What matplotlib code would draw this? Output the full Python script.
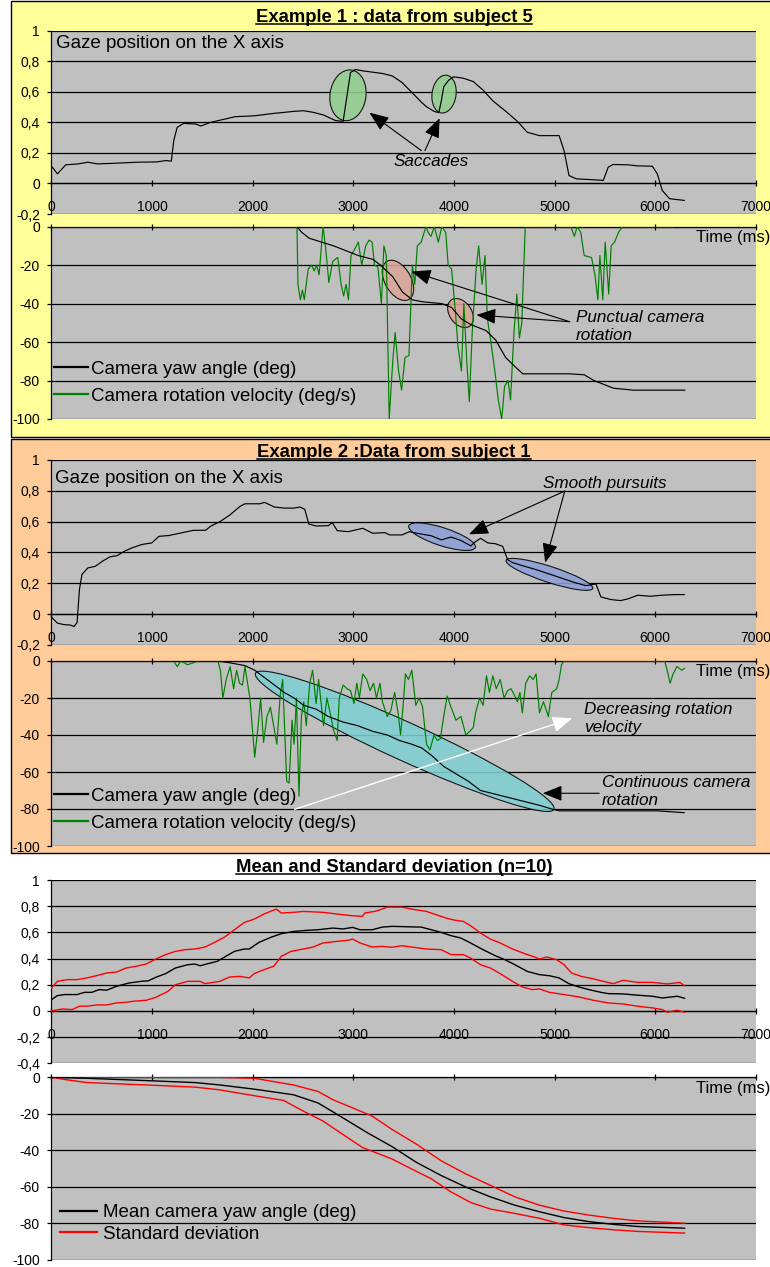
import numpy as np
import matplotlib
matplotlib.use('Agg')
import matplotlib.pyplot as plt
from matplotlib.patches import Ellipse, Rectangle
from matplotlib.lines import Line2D
from matplotlib.ticker import FuncFormatter
import matplotlib.transforms as mtrans

plt.rcParams['font.family'] = ['Liberation Sans', 'DejaVu Sans']
plt.rcParams['axes.unicode_minus'] = False

W, H, DPI = 770, 1267, 100

# ---------------- data ----------------
time_ticks = [0, 1000, 2000, 3000, 4000, 5000, 6000, 7000]
gaze_ticks = [-0.2, 0, 0.2, 0.4, 0.6, 0.8, 1]
gaze_ticks_mean = [-0.4, -0.2, 0, 0.2, 0.4, 0.6, 0.8, 1]
cam_ticks = [-100, -80, -60, -40, -20, 0]

titles = ["Example 1 : data from subject 5", "Example 2 :Data from subject 1",
          "Mean and Standard deviation (n=10)"]

# Example 1 (subject 5)
ex1_gaze_t = [0, 59, 142, 264, 361, 459, 654, 849, 1044, 1142, 1191, 1215, 1249, 1313, 1435, 1484,
              1581, 1728, 1825, 2020, 2216, 2411, 2508, 2606, 2704, 2826, 2899, 2972, 3021, 3094,
              3289, 3387, 3484, 3582, 3680, 3728, 3802, 3850, 3875, 3899, 3948, 3997, 4094, 4192,
              4290, 4387, 4509, 4631, 4729, 4851, 5046, 5095, 5144, 5217, 5339, 5485, 5534, 5583,
              5729, 5827, 5973, 6022, 6071, 6144, 6290]
ex1_gaze_x = [0.113, 0.063, 0.122, 0.128, 0.139, 0.128, 0.133, 0.139, 0.141, 0.150, 0.146, 0.28,
              0.367, 0.393, 0.389, 0.376, 0.40, 0.422, 0.437, 0.443, 0.459, 0.472, 0.476, 0.465,
              0.448, 0.411, 0.407, 0.726, 0.746, 0.737, 0.72, 0.704, 0.661, 0.596, 0.53, 0.502,
              0.472, 0.463, 0.541, 0.633, 0.676, 0.698, 0.689, 0.667, 0.611, 0.541, 0.476, 0.407,
              0.335, 0.313, 0.313, 0.215, 0.052, 0.030, 0.026, 0.020, 0.107, 0.124, 0.122, 0.115,
              0.113, 0.063, -0.046, -0.10, -0.111]

ex1_yaw_t = [0, 2440, 2489, 2562, 2684, 2806, 2952, 3050, 3196, 3270, 3392, 3489, 3587, 3684,
             3880, 3977, 4075, 4172, 4319, 4416, 4514, 4612, 4685, 5148, 5295, 5392, 5588, 5783, 6295]
ex1_yaw = [0, 0, -3, -6, -8, -10, -13, -15, -17, -20, -26, -34, -38, -39, -40, -42, -48, -51,
           -54, -59, -68, -73, -76.5, -76.5, -77, -80, -84, -85, -85]

ex1_vel_t = [0, 2440, 2450, 2474, 2494, 2513, 2552, 2586, 2611, 2635, 2660, 2699, 2723, 2757,
             2796, 2845, 2879, 2904, 2928, 2952, 2977, 3011, 3050, 3084, 3123, 3157, 3187, 3211,
             3245, 3279, 3304, 3328, 3357, 3392, 3416, 3450, 3480, 3514, 3553, 3587, 3611, 3636,
             3675, 3704, 3723, 3743, 3772, 3806, 3845, 3880, 3919, 3943, 3977, 4016, 4040, 4075,
             4099, 4128, 4153, 4182, 4221, 4246, 4280, 4309, 4333, 4368, 4407, 4441, 4475, 4504,
             4538, 4563, 4597, 4626, 4651, 4675, 4709, 5163, 5197, 5226, 5261, 5295, 5368, 5402,
             5431, 5451, 5480, 5504, 5539, 5563, 5597, 5636, 5675, 6173]
ex1_vel = [0, 0, -30, -38, -33, -38, -22, -20, -23, -20, -25, 0, -10, -29, -18, -16, -30, -36,
           -30, -38, -15, -12, -8, -20, -10, -7, -8, -20, -21, -40, -10, -15, -100, -70, -55, -75,
           -85, -68, -67, -20, -30, -10, -8, -3, 0, -3, -5, 0, -8, 0, -3, -20, -22, -45, -62, -75,
           -40, -70, -91, -55, -22, -10, -30, -15, -48, -60, -75, -90, -100, -83, -80, -90, -55,
           -35, -58, -50, 0, 0, -5, 0, -3, -15, -16, -25, -38, -15, -38, -8, -35, -10, -8, -3, 0, 0]

# Example 2 (subject 1)
ex2_gaze_t = [0, 59, 117, 190, 224, 254, 278, 303, 361, 434, 508, 581, 654, 727, 800, 898, 996,
              1069, 1166, 1288, 1410, 1532, 1581, 1679, 1776, 1874, 1923, 2069, 2118, 2216, 2313,
              2411, 2469, 2518, 2557, 2630, 2752, 2791, 2840, 2948, 3094, 3192, 3314, 3362, 3484,
              3558, 3631, 3777, 3875, 3972, 4070, 4168, 4216, 4265, 4338, 4412, 4485, 4534, 4582,
              4704, 4802, 4900, 4997, 5095, 5217, 5314, 5412, 5461, 5558, 5656, 5729, 5827, 5949,
              6071, 6193, 6290]
ex2_gaze_x = [-0.02, -0.058, -0.067, -0.071, -0.08, -0.054, 0.161, 0.258, 0.30, 0.31, 0.344,
              0.372, 0.38, 0.409, 0.43, 0.452, 0.462, 0.505, 0.51, 0.527, 0.544, 0.544, 0.57,
              0.602, 0.645, 0.699, 0.716, 0.716, 0.725, 0.695, 0.688, 0.688, 0.695, 0.68, 0.585,
              0.572, 0.574, 0.594, 0.542, 0.535, 0.557, 0.525, 0.529, 0.514, 0.514, 0.535, 0.525,
              0.508, 0.482, 0.50, 0.478, 0.443, 0.471, 0.492, 0.462, 0.457, 0.44, 0.353, 0.335,
              0.31, 0.292, 0.271, 0.25, 0.228, 0.202, 0.185, 0.196, 0.112, 0.095, 0.088, 0.099,
              0.123, 0.116, 0.123, 0.127, 0.127]

ex2_yaw_t = [0, 1654, 1776, 1923, 2020, 2118, 2216, 2313, 2411, 2508, 2630, 2752, 2899, 3045,
             3192, 3338, 3460, 3582, 3680, 3777, 3899, 4021, 4143, 4265, 4412, 4558, 4704, 4851,
             4973, 5046, 6022, 6290]
ex2_yaw = [0, 0, -1, -2.5, -5, -9, -13, -17, -20, -24, -26, -30, -33, -35, -38, -40, -43, -45,
           -47, -51, -57, -61, -65, -70, -72, -74, -76, -78, -80, -81, -81, -82]

ex2_vel_t = [0, 1215, 1249, 1288, 1352, 1410, 1444, 1654, 1679, 1703, 1737, 1776, 1810, 1840,
             1869, 1898, 1923, 1972, 2020, 2054, 2079, 2108, 2142, 2176, 2240, 2274, 2298, 2338,
             2362, 2391, 2411, 2435, 2460, 2484, 2508, 2533, 2567, 2596, 2630, 2655, 2704, 2738,
             2777, 2801, 2840, 2860, 2899, 2938, 2972, 3006, 3035, 3060, 3094, 3133, 3167, 3201,
             3231, 3265, 3289, 3338, 3372, 3411, 3445, 3470, 3494, 3518, 3548, 3582, 3621, 3655,
             3689, 3728, 3762, 3802, 3836, 3865, 3899, 3933, 3972, 4021, 4070, 4119, 4158, 4192,
             4216, 4255, 4290, 4324, 4353, 4387, 4421, 4460, 4499, 4534, 4568, 4597, 4631, 4656,
             4680, 4714, 4753, 4787, 4817, 4851, 4890, 4939, 4973, 5022, 5046, 5070, 5095, 6095,
             6120, 6149, 6179, 6217, 6266, 6290]
ex2_vel = [0, 0, -3, 0, -2, -1, 0, 0, -5, -20, -10, -3, -15, -5, -12, -13, -3, -20, -52, -35,
           -20, -44, -30, -25, -45, -18, -10, -65, -66, -32, -45, -20, -73, -30, -22, -35, -12,
           -5, -23, -10, -35, -20, -30, -37, -43, -20, -13, -15, -16, -23, -12, -20, -7, -10, -16,
           -12, -20, -12, -22, -30, -27, -17, -28, -40, -25, -7, -10, -5, -24, -20, -25, -45, -48,
           -40, -43, -42, -30, -19, -25, -32, -30, -40, -38, -36, -28, -20, -24, -8, -17, -8, -15,
           -10, -20, -16, -15, -18, -22, -17, -28, -12, -8, -10, -7, -28, -22, -30, -17, -15,
           -10, -2, 0, 0, -5, -12, -7, -3, -5, -4]

# Mean and standard deviation (n=10)
mean_gaze_t = [0, 59, 132, 254, 328, 401, 474, 548, 645, 768, 890, 963, 1037, 1134, 1232, 1355,
               1428, 1477, 1550, 1648, 1721, 1819, 1917, 1966, 2064, 2186, 2284, 2406, 2528, 2650,
               2797, 2895, 2993, 3066, 3188, 3286, 3384, 3677, 3775, 3873, 3971, 4068, 4166, 4289,
               4411, 4508, 4606, 4729, 4851, 4949, 5046, 5144, 5242, 5340, 5462, 5535, 5682, 5828,
               5975, 6073, 6220, 6293]
mean_gaze = [0.086, 0.117, 0.125, 0.125, 0.142, 0.142, 0.163, 0.158, 0.188, 0.213, 0.226, 0.23,
             0.257, 0.285, 0.328, 0.353, 0.358, 0.345, 0.36, 0.379, 0.412, 0.455, 0.473, 0.473,
             0.524, 0.564, 0.59, 0.607, 0.615, 0.62, 0.633, 0.626, 0.638, 0.62, 0.62, 0.64, 0.646,
             0.64, 0.62, 0.60, 0.575, 0.557, 0.519, 0.468, 0.422, 0.391, 0.353, 0.302, 0.277,
             0.269, 0.252, 0.208, 0.183, 0.163, 0.142, 0.132, 0.13, 0.12, 0.112, 0.099, 0.112, 0.097]

upper_gaze_t = [0, 59, 156, 254, 352, 450, 548, 645, 743, 841, 939, 1037, 1134, 1232, 1330,
                1428, 1526, 1623, 1721, 1819, 1917, 2015, 2112, 2235, 2284, 2406, 2504, 2699,
                2895, 2993, 3090, 3115, 3213, 3286, 3335, 3482, 3579, 3726, 3824, 3922, 4020,
                4093, 4166, 4264, 4362, 4460, 4582, 4704, 4802, 4851, 4924, 5022, 5095, 5168,
                5266, 5389, 5486, 5584, 5682, 5829, 5975, 6122, 6245, 6293]
upper_gaze = [0.175, 0.226, 0.239, 0.239, 0.252, 0.27, 0.29, 0.297, 0.328, 0.341, 0.358, 0.396,
              0.43, 0.455, 0.468, 0.473, 0.488, 0.524, 0.564, 0.62, 0.676, 0.701, 0.74, 0.778,
              0.748, 0.753, 0.76, 0.753, 0.735, 0.727, 0.722, 0.748, 0.76, 0.778, 0.793, 0.793,
              0.778, 0.76, 0.735, 0.709, 0.691, 0.684, 0.651, 0.595, 0.549, 0.519, 0.473, 0.437,
              0.412, 0.396, 0.412, 0.391, 0.353, 0.29, 0.264, 0.244, 0.226, 0.208, 0.234, 0.218,
              0.218, 0.206, 0.218, 0.193]

lower_gaze_t = [0, 108, 205, 279, 352, 450, 548, 645, 743, 817, 939, 1037, 1159, 1232, 1355,
                1477, 1526, 1672, 1770, 1868, 1966, 2015, 2112, 2210, 2284, 2381, 2504, 2601,
                2699, 2846, 2944, 2993, 3066, 3188, 3286, 3384, 3482, 3579, 3726, 3873, 3971,
                4093, 4166, 4264, 4362, 4460, 4582, 4680, 4778, 4851, 4949, 5095, 5242, 5389,
                5535, 5682, 5829, 5975, 6073, 6122, 6220, 6293]
lower_gaze = [0.0, 0.015, 0.01, 0.036, 0.036, 0.046, 0.046, 0.061, 0.066, 0.074, 0.081, 0.104,
              0.15, 0.2, 0.226, 0.226, 0.208, 0.226, 0.259, 0.264, 0.252, 0.285, 0.315, 0.341,
              0.417, 0.455, 0.473, 0.488, 0.519, 0.532, 0.539, 0.549, 0.519, 0.488, 0.493, 0.486,
              0.498, 0.488, 0.473, 0.468, 0.43, 0.43, 0.404, 0.353, 0.328, 0.285, 0.226, 0.183,
              0.163, 0.168, 0.142, 0.125, 0.107, 0.081, 0.061, 0.053, 0.036, 0.023, 0.01, -0.01,
              0.005, -0.01]

mean_yaw_t = [0, 328, 939, 1428, 1672, 2015, 2406, 2650, 2895, 3139, 3384, 3628, 3873, 4117,
              4362, 4606, 4851, 5095, 5340, 5584, 5828, 6293]
mean_yaw = [0, -0.5, -1.8, -2.9, -4.2, -6.5, -9.6, -14.1, -22.2, -30.4, -38, -46.7, -53.9,
            -60.2, -65.6, -70.2, -73.8, -77, -79.2, -80.7, -81.9, -82.8]
upper_yaw_t = [0, 1660, 2015, 2210, 2406, 2650, 2797, 2993, 3188, 3384, 3628, 3873, 4117, 4362,
               4606, 4851, 5095, 5340, 5584, 5828, 6293]
upper_yaw = [0, 0, -0.5, -2.4, -4.2, -7.8, -12.3, -16.8, -21.3, -28.6, -36.7, -45.8, -53,
             -59.3, -65.6, -70.2, -73.4, -75.6, -77.4, -78.8, -80.1]
lower_yaw_t = [0, 156, 352, 939, 1428, 1672, 2015, 2308, 2504, 2699, 2895, 3090, 3384, 3579,
               3775, 3971, 4166, 4362, 4606, 4851, 5095, 5340, 5584, 5828, 6293]
lower_yaw = [0, -1.4, -2.9, -4.2, -5.4, -6.9, -10.1, -12.7, -18.6, -24, -31.3, -38.5, -44.8,
             -50.3, -55.7, -62.9, -68.7, -72.3, -74.7, -77.4, -81, -82.5, -83.7, -84.6, -85.5]

# ---------------- figure ----------------
fig = plt.figure(figsize=(W / DPI, H / DPI), dpi=DPI)
fig.patch.set_facecolor('white')

GRAY = '#c0c0c0'
YELLOW = '#ffff99'
ORANGE = '#ffcc99'
GREEN = '#008000'


def panel_box(top, bottom, color):
    r = Rectangle((11 / W, 1 - bottom / H), 1.0, (bottom - top) / H, transform=fig.transFigure,
                  facecolor=color, edgecolor='black', lw=1.0, zorder=-5)
    fig.add_artist(r)


panel_box(1, 436.5, YELLOW)
panel_box(439, 852.5, ORANGE)


def add_ax(top, bottom, left=51.5, right=755.7):
    return fig.add_axes([left / W, 1 - bottom / H, (right - left) / W, (bottom - top) / H])


def comma(v, pos):
    v = round(v, 1) + 0.0
    return ('%g' % v).replace('.', ',')


def common(ax):
    ax.set_facecolor(GRAY)
    ax.set_xlim(0, 7000)
    ax.set_xticks(time_ticks)
    ax.spines['right'].set_visible(False)
    ax.spines['left'].set_linewidth(0.9)
    ax.grid(axis='y', color='black', lw=0.9)
    ax.set_axisbelow(True)
    ax.tick_params(axis='y', direction='out', length=2.9, width=0.9, pad=5.4, labelsize=10)


def style_gaze(ax, ylim, yticks):
    common(ax)
    ax.set_ylim(*ylim)
    ax.set_yticks(yticks)
    ax.yaxis.set_major_formatter(FuncFormatter(comma))
    ax.xaxis.set_major_formatter(FuncFormatter(lambda v, p: '%d' % v))
    ax.spines['top'].set_visible(False)
    ax.spines['bottom'].set_position(('data', 0))
    ax.spines['bottom'].set_linewidth(0.9)
    ax.tick_params(axis='x', direction='inout', length=4.8, width=0.9, pad=9.6, labelsize=10)


def style_cam(ax):
    common(ax)
    ax.set_ylim(-100, 0)
    ax.set_yticks(cam_ticks)
    ax.yaxis.set_major_formatter(FuncFormatter(lambda v, p: '%d' % v))
    ax.spines['bottom'].set_visible(False)
    ax.spines['top'].set_linewidth(0.9)
    ax.xaxis.tick_top()
    ax.tick_params(axis='x', direction='inout', length=4.8, width=0.9,
                   labeltop=False, labelbottom=False)


def ellipse(ax, x, y, w_px, h_px, angle, fc):
    tr = fig.dpi_scale_trans + mtrans.ScaledTranslation(x, y, ax.transData)
    e = Ellipse((0, 0), w_px / DPI, h_px / DPI, angle=angle, transform=tr,
                facecolor=fc, edgecolor='black', lw=0.8, alpha=0.88, zorder=1.5)
    ax.add_patch(e)


def arrow(ax, start, tip, color='black', lw=0.8):
    ax.annotate('', xy=tip, xytext=start,
                arrowprops=dict(arrowstyle='-|>,head_length=0.6,head_width=0.24',
                                color=color, lw=lw, shrinkA=0, shrinkB=0,
                                mutation_scale=20), zorder=5)


def note(ax, x, y, s):
    ax.text(x, y, s, fontsize=12.3, style='italic', ha='left', va='center',
            linespacing=1.25, zorder=6)


def time_label(ax, yfrac):
    ax.text(0.9155, yfrac, 'Time (ms)', transform=ax.transAxes, fontsize=12,
            ha='left', va='center', clip_on=False)


def legend(ax, entries, xfrac, yfrac, spacing, hl, pad):
    handles = [Line2D([], [], color=c, lw=1.6) for c, _ in entries]
    labels = [s for _, s in entries]
    ax.legend(handles, labels, loc='center left', bbox_to_anchor=(xfrac, yfrac),
              frameon=False, fontsize=13.5, borderaxespad=0, borderpad=0,
              handlelength=hl, handletextpad=pad, labelspacing=spacing)


cam_legend = [('black', 'Camera yaw angle (deg)'), (GREEN, 'Camera rotation velocity (deg/s)')]
mean_legend = [('black', 'Mean camera yaw angle (deg)'), ('red', 'Standard deviation')]

# ---- Panel 1 ----
a1 = add_ax(30.7, 214)
style_gaze(a1, (-0.2, 1), gaze_ticks)
a1.plot(ex1_gaze_t, ex1_gaze_x, color='black', lw=0.85, zorder=3)
a1.text(0.0071, 0.931, 'Gaze position on the X axis', transform=a1.transAxes,
        fontsize=13.5, ha='left', va='center')
ellipse(a1, 2947, 0.577, 36, 51, -8, '#92cf8e')
ellipse(a1, 3902, 0.585, 24, 38, -8, '#92cf8e')
arrow(a1, (3677, 0.215), (3160, 0.4635))
arrow(a1, (3712, 0.215), (3858, 0.427))
note(a1, 3395, 0.143, 'Saccades')

b1 = add_ax(226.7, 419)
style_cam(b1)
b1.plot(ex1_vel_t, ex1_vel, color=GREEN, lw=0.85, zorder=3)
b1.plot(ex1_yaw_t, ex1_yaw, color='black', lw=0.85, zorder=4)
ellipse(b1, 3444, -27.9, 44, 26, -60, '#d9a596')
ellipse(b1, 4066, -44.9, 32, 22, -55, '#d9a596')
arrow(b1, (5151, -49.4), (3579, -23.3))
arrow(b1, (5151, -49.4), (4224, -45.9))
note(b1, 5210, -52.0, 'Punctual camera\nrotation')
time_label(b1, 0.946)
legend(b1, cam_legend, 0.0035, 0.188, 0.52, 1.83, 0.16)

# ---- Panel 2 ----
a2 = add_ax(460, 645)
style_gaze(a2, (-0.2, 1), gaze_ticks)
a2.plot(ex2_gaze_t, ex2_gaze_x, color='black', lw=0.85, zorder=3)
a2.text(0.005, 0.901, 'Gaze position on the X axis', transform=a2.transAxes,
        fontsize=13.5, ha='left', va='center')
ellipse(a2, 3882, 0.5026, 70, 18, -18, '#8c9fd6')
ellipse(a2, 4949, 0.258, 91, 16, -18, '#8c9fd6')
arrow(a2, (5102, 0.7986), (4150, 0.518))
arrow(a2, (5102, 0.7986), (4907, 0.334))
note(a2, 4886, 0.848, 'Smooth pursuits')

b2 = add_ax(661, 846)
style_cam(b2)
b2.plot(ex2_vel_t, ex2_vel, color=GREEN, lw=0.85, zorder=3)
b2.plot(ex2_yaw_t, ex2_yaw, color='black', lw=0.85, zorder=4)
ellipse(b2, 3511, -43.4, 328, 38, -24.5, '#7fcfd3')
arrow(b2, (2417, -80.2), (5176, -31.0), color='white', lw=1.0)
arrow(b2, (5444, -71.5), (4883, -71.5))
note(b2, 5298, -31.2, 'Decreasing rotation\nvelocity')
note(b2, 5469, -70.4, 'Continuous camera\nrotation')
time_label(b2, 0.942)
legend(b2, cam_legend, 0.0035, 0.197, 0.52, 1.83, 0.16)

# ---- Panel 3 ----
a3 = add_ax(880, 1063.3)
style_gaze(a3, (-0.4, 1), gaze_ticks_mean)
a3.plot(upper_gaze_t, upper_gaze, color='red', lw=1.0, zorder=3)
a3.plot(lower_gaze_t, lower_gaze, color='red', lw=1.0, zorder=3)
a3.plot(mean_gaze_t, mean_gaze, color='black', lw=1.0, zorder=4)

b3 = add_ax(1077.3, 1259.5)
style_cam(b3)
b3.plot(upper_yaw_t, upper_yaw, color='red', lw=1.0, zorder=3)
b3.plot(lower_yaw_t, lower_yaw, color='red', lw=1.0, zorder=3)
b3.plot(mean_yaw_t, mean_yaw, color='black', lw=1.0, zorder=4)
time_label(b3, 0.940)
legend(b3, mean_legend, 0.012, 0.198, 0.22, 2.0, 0.3)

# ---- titles with underline ----
title_baselines = [21.7, 457, 872]
title_objs = []
for s, yb in zip(titles, title_baselines):
    t = fig.text(394 / W, 1 - yb / H, s, fontsize=13.3, fontweight='bold',
                 ha='center', va='baseline')
    title_objs.append((t, yb))

fig.canvas.draw()
renderer = fig.canvas.get_renderer()
for t, yb in title_objs:
    bb = t.get_window_extent(renderer)
    yl = 1 - (yb + 2.0) / H
    fig.add_artist(Line2D([bb.x0 / W, bb.x1 / W], [yl, yl], transform=fig.transFigure,
                          color='black', lw=1.1))

fig.savefig('out.png', dpi=DPI)
